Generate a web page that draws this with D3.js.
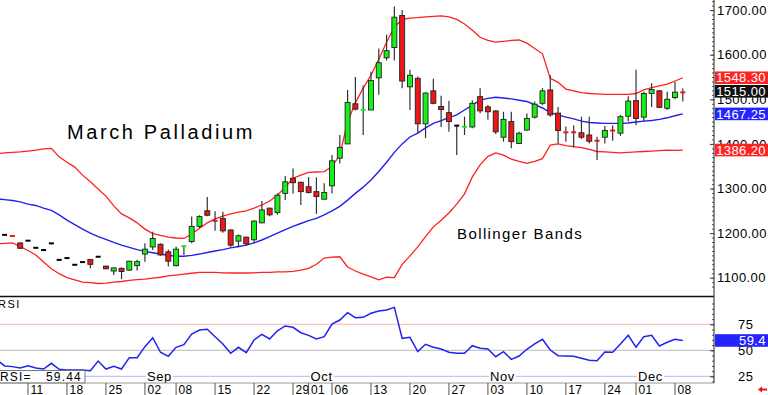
<!DOCTYPE html>
<html>
<head>
<meta charset="utf-8">
<script src="https://cdn.jsdelivr.net/npm/d3@7/dist/d3.min.js"></script>
<style>
  body { margin: 0; background: #fff; }
  svg { display: block; font-family: "Liberation Sans", Arial, sans-serif; }
</style>
</head>
<body>
<svg id="chart" width="768" height="395"></svg>
<script>
// trading days (2014), Aug 5 .. Dec 9
var tradingDays = [
  "08-05","08-06","08-07","08-08","08-11","08-12","08-13","08-14","08-15","08-18","08-19","08-20","08-21","08-22","08-25","08-26","08-27","08-28","08-29",
  "09-02","09-03","09-04","09-05","09-08","09-09","09-10","09-11","09-12","09-15","09-16","09-17","09-18","09-19","09-22","09-23","09-24","09-25","09-26","09-29","09-30",
  "10-01","10-02","10-03","10-06","10-07","10-08","10-09","10-10","10-13","10-14","10-15","10-16","10-17","10-20","10-21","10-22","10-23","10-24","10-27","10-28","10-29","10-30","10-31",
  "11-03","11-04","11-05","11-06","11-07","11-10","11-11","11-12","11-13","11-14","11-17","11-18","11-19","11-20","11-21","11-24","11-25","11-26","11-28",
  "12-01","12-02","12-03","12-04","12-05","12-08","12-09"
];

var opens = [1197,1196,1194,1178,
  1183,1167,1162,1177,1140,1144,1129,1135,1141,1147,
  1126,1115,1121,1117,1127,1153,1169,1175,1158,1127,
  1170,1181,1215,1250,1228,1233,1207,1182,1191,1185,
  1223,1256,1246,1289,1323,1314,1304,1293,1276,1306,
  1368,1400,1490,1476,1476,1548,1593,1616,1688,1528,
  1547,1445,1519,1484,1470,1441,1438,1438,1506,1483,
  1474,1415,1450,1401,1431,1460,1491,1521,1469,1426.5,
  1426.5,1425,1420,1407.5,1415,1430.5,1424,1462,1497,1460,
  1513,1519,1480,1504,1516];
var highs = [1197,1196,1194,1179,
  1183,1167,1162,1177,1140,1144,1129,1135,1142,1147,
  1127,1123,1123,1138,1140,1177,1203,1177,1163,1170,
  1173,1237,1240,1281,1249,1248,1208,1197,1192,1229,
  1272,1257,1289,1328,1345,1315,1326,1325,1312,1375,
  1420,1521,1550,1531,1562,1614,1645,1708,1700,1566,
  1551,1516,1546,1508,1497,1442,1461,1498,1525,1487,
  1475,1472,1472,1427,1468,1495,1525,1554,1483,1439,
  1442,1461,1461,1416,1440,1442,1465,1507,1566,1517,
  1536,1521,1517,1539,1524];
var lows = [1197,1196,1193,1165,
  1183,1167,1162,1177,1140,1144,1129,1135,1121,1147,
  1119,1106,1097,1115,1116,1136,1162,1149,1125,1125,
  1151,1177,1211,1238,1205,1201,1168,1168,1171,1177,
  1222,1238,1241,1274,1289,1263,1289,1243,1276,1289,
  1356,1400,1475,1420,1476,1510,1587,1587,1525,1476,
  1424,1413,1489,1438,1427,1375,1420,1435,1469,1454,
  1422,1405,1390,1400,1430,1457,1487,1461,1401,1405,
  1392,1411,1401,1364,1401,1407,1418,1450,1442,1450,
  1483,1480,1476,1500,1495];
var closes = [1197,1196,1193,1166,
  1183,1167,1162,1177,1140,1144,1129,1135,1130,1147,
  1120,1122,1114,1137,1136,1164,1188,1151,1137,1164,
  1171,1215,1237,1240,1227,1205,1173,1194,1176,1227,
  1252,1241,1285,1315,1313,1293,1291,1282,1291,1362,
  1392,1493,1478,1477,1542,1582,1609,1684,1541,1554,
  1445,1514,1491,1477,1450,1441,1439,1491,1474,1472,
  1427,1455,1405,1424,1457,1489,1519,1465,1430,1425.5,
  1425.5,1415,1406,1406.5,1430,1429.5,1461,1496,1457,1513,
  1522,1482,1500,1516,1515];

// bollinger bands as plotted
var upperBand = [1378,1380,1381,1382,
  1384,1386,1389,1390,1371,1359,1348,1330,1315,1299,
  1283,1261,1243,1234,1223,1209,1199,1195,1191,1189,
  1188,1198,1211,1223,1232,1238,1243,1247,1250,1256,
  1263,1272,1285,1303,1323,1330,1336,1337,1338,1349,
  1375,1449,1492,1525,1554,1590,1628,1662,1679,1682,
  1683,1685,1686,1687,1685,1679,1669,1655,1639,1632,
  1628,1630,1632,1633,1626,1614,1602,1547,1538,1523,
  1519,1515,1513,1512,1511,1511,1511,1511,1513,1521,
  1526,1530,1534,1541,1548.3];
var middleBand = [1276.5,1275,1273,1270,
  1265,1262,1256,1251,1241,1229,1219,1209,1200,1192,
  1186,1179,1173,1168,1163,1159,1156,1153,1150,1148,
  1148,1150,1153,1156.5,1160,1163,1167,1170,1173,1178,
  1184.5,1192,1200,1208,1215,1221.5,1228,1233,1241,1250,
  1260,1274,1289,1303,1319,1338,1359,1381,1400,1415.5,
  1424,1436,1446,1452,1459,1465,1476,1487,1498,1502,
  1504.5,1503,1501,1498,1495,1488,1480.5,1470,1465,1460,
  1456,1451,1448,1447,1446,1446,1446,1447,1449,1451,
  1452.5,1455,1458.5,1463,1467.25];
var lowerBand = [1176,1177,1178,1170,
  1161,1151,1135,1120,1109,1100,1095,1090,1089,1087,
  1088,1090,1091.5,1094,1095.5,1097,1099,1101,1104,1106,
  1108,1110,1112,1112,1112,1111,1110.5,1110.5,1110.5,1111,
  1112,1112,1113,1113,1114,1117,1121,1130,1144,1146,
  1147,1124,1115,1108,1102,1095,1101,1100,1130,1149,
  1169,1192,1214,1229,1245,1265,1288,1326,1353,1372,
  1380,1375,1366,1361,1356.5,1361,1367,1397.5,1400,1396,
  1394,1391.5,1387.5,1383,1382,1381,1380,1381,1382,1383,
  1384,1385,1386,1385.5,1386.2];

var rsi = [41,35,34.3,33,
  35,33,32,37.5,31.7,31,31,31,30.4,39.7,
  32,34.6,32,42.9,42.9,53.5,62.1,48.1,44.2,52.9,
  55.4,65.7,69.5,70.2,63.1,56.1,47.1,52.9,47.7,59.9,
  65.4,60.9,68.8,73.4,72.1,66.9,64.4,60.9,63.1,75.3,
  79.1,86.2,81.3,81.7,85.6,87.8,88.8,91.3,61.5,62.5,
  48.7,55.8,52.9,51.3,48.1,47.1,47.1,54.4,51.9,51.3,
  43.8,48.7,41.3,44.5,51,56.1,60.6,50.3,44.8,44.5,
  44.2,42.3,40.4,40,48.4,48.1,56.1,64.4,52.9,63.1,
  64.4,54.1,57.7,60.6,59.44];

var priceTicks = [1100, 1200, 1300, 1400, 1500, 1600, 1700];
var rsiTicks = [25, 50, 75];
var monthNames = ["Sep", "Oct", "Nov", "Dec"];

var parseDay = d3.timeParse("%Y-%m-%d");
var dates = tradingDays.map(function(d) { return parseDay("2014-" + d); });

var svg = d3.select("#chart");
var plotRight = 714;
var n = dates.length;

var x = d3.scaleLinear().domain([0, n - 1]).range([-3.2, 682.8]);
var y = d3.scaleLinear().domain([1100, 1700]).range([277.7, 10.1]);
var yr = d3.scaleLinear().domain([25, 75]).range([376.3, 324.3]);

svg.append("defs").append("clipPath").attr("id", "clipMain")
   .append("rect").attr("x", 0).attr("y", 0).attr("width", plotRight).attr("height", 296);
svg.append("defs").append("clipPath").attr("id", "clipRsi")
   .append("rect").attr("x", 0).attr("y", 297).attr("width", plotRight).attr("height", 86);

/* main price panel */
var main = svg.append("g").attr("clip-path", "url(#clipMain)");

var bandLine = d3.line().x(function(d, i) { return x(i); }).y(function(d) { return y(d); });
main.append("path").datum(upperBand).attr("d", bandLine)
    .attr("fill", "none").attr("stroke", "#ff2020").attr("stroke-width", 1.3);
main.append("path").datum(lowerBand).attr("d", bandLine)
    .attr("fill", "none").attr("stroke", "#ff2020").attr("stroke-width", 1.3);
main.append("path").datum(middleBand).attr("d", bandLine)
    .attr("fill", "none").attr("stroke", "#2020ee").attr("stroke-width", 1.4);

main.append("text").attr("x", 67).attr("y", 138.5).text("March Palladium")
    .style("font-size", "20px").style("letter-spacing", "2.6px").attr("fill", "#000");
main.append("text").attr("x", 457).attr("y", 239).text("Bollinger Bands")
    .style("font-size", "15px").style("letter-spacing", "1.4px").attr("fill", "#000");

var bars = d3.range(n).map(function(i) {
  return {i: i, o: opens[i], h: highs[i], l: lows[i], c: closes[i]};
});

function barColor(d) {
  if (d.c > d.o) return "#18ee18";
  if (d.c < d.o) return "#ee1616";
  return "#000";
}

var candle = main.append("g").selectAll("g").data(bars).enter().append("g");

// wicks
candle.filter(function(d) { return d.h > d.l; })
  .append("line")
  .attr("x1", function(d) { return x(d.i); })
  .attr("x2", function(d) { return x(d.i); })
  .attr("y1", function(d) { return y(d.h); })
  .attr("y2", function(d) { return y(d.l); })
  .attr("stroke", "#333").attr("stroke-width", 1.2);

// bodies
candle.append("rect")
  .attr("x", function(d) { return x(d.i) - 2.5; })
  .attr("width", 5)
  .attr("y", function(d) {
    var top = y(Math.max(d.o, d.c)), bot = y(Math.min(d.o, d.c));
    return (bot - top < 2) ? (top + bot) / 2 - 1 : top;
  })
  .attr("height", function(d) {
    var h = y(Math.min(d.o, d.c)) - y(Math.max(d.o, d.c));
    return h < 2 ? 2 : h;
  })
  .attr("fill", barColor)
  .attr("stroke", function(d) {
    var h = y(Math.min(d.o, d.c)) - y(Math.max(d.o, d.c));
    return h < 2 ? "none" : "#222";
  })
  .attr("stroke-width", 0.9);

/* rsi panel */
var rsiG = svg.append("g").attr("clip-path", "url(#clipRsi)");
rsiG.append("line").attr("x1", 0).attr("x2", plotRight).attr("y1", yr(75)).attr("y2", yr(75))
    .attr("stroke", "#ffb4b4").attr("stroke-width", 1);
rsiG.append("line").attr("x1", 0).attr("x2", plotRight).attr("y1", yr(50)).attr("y2", yr(50))
    .attr("stroke", "#b8b8b8").attr("stroke-width", 1);
rsiG.append("line").attr("x1", 0).attr("x2", plotRight).attr("y1", yr(25)).attr("y2", yr(25))
    .attr("stroke", "#b4b4ff").attr("stroke-width", 1);

rsiG.append("path").datum(rsi)
    .attr("d", d3.line().x(function(d, i) { return x(i); }).y(function(d) { return yr(d); }))
    .attr("fill", "none").attr("stroke", "#2222f0").attr("stroke-width", 1.5);

// month labels sitting on the 25 line
dates.forEach(function(d, i) {
  if (i > 0 && d.getMonth() != dates[i - 1].getMonth()) {
    var name = monthNames[d.getMonth() - 8];
    var t = rsiG.append("text").attr("x", x(i) + 2).attr("y", 381).text(name)
        .style("font-size", "13px").style("letter-spacing", "0.6px").attr("fill", "#000");
    var bb = t.node().getBBox();
    rsiG.insert("rect", "text").attr("x", bb.x - 1).attr("y", bb.y + 1)
        .attr("width", bb.width + 2).attr("height", bb.height - 2).attr("fill", "#fff");
  }
});

svg.append("text").attr("x", -2).attr("y", 308).text("RSI")
   .style("font-size", "11px").style("letter-spacing", "1.5px").attr("fill", "#000");

// rsi readout box
svg.append("rect").attr("x", -1).attr("y", 370.5).attr("width", 86).attr("height", 12.5)
   .attr("fill", "#fff").attr("stroke", "#777").attr("stroke-width", 1);
svg.append("text").attr("x", 0).attr("y", 381).text("RSI=")
   .style("font-size", "12px").style("letter-spacing", "1.2px");
svg.append("text").attr("x", 82).attr("y", 381).attr("text-anchor", "end")
   .text(d3.format(".2f")(rsi[n - 1]))
   .style("font-size", "12px").style("letter-spacing", "1.2px");

/* frame lines */
svg.append("line").attr("x1", 0).attr("x2", plotRight).attr("y1", 296.5).attr("y2", 296.5)
   .attr("stroke", "#111").attr("stroke-width", 1.5);
svg.append("line").attr("x1", 0).attr("x2", plotRight).attr("y1", 383).attr("y2", 383)
   .attr("stroke", "#999").attr("stroke-width", 1);

/* right axes */
var priceAxis = d3.axisRight(y).tickValues(priceTicks).tickFormat(d3.format(".2f"))
   .tickSizeInner(-4).tickSizeOuter(0).tickPadding(3);
var pa = svg.append("g").attr("transform", "translate(" + plotRight + ",0)").call(priceAxis);
pa.select(".domain").remove();
pa.selectAll("text").style("font-size", "13px").style("letter-spacing", "0.4px")
  .style("font-family", "Liberation Sans, Arial, sans-serif").attr("fill", "#000");
pa.selectAll("line").attr("stroke", "#333");

var minorPrice = d3.axisRight(y).tickValues(d3.range(1080, 1721, 10)).tickSize(-2).tickFormat("");
var mp = svg.append("g").attr("transform", "translate(" + plotRight + ",0)").call(minorPrice);
mp.select(".domain").remove();
mp.selectAll("line").attr("stroke", "#555");

var rsiAxis = d3.axisRight(yr).tickValues(rsiTicks).tickSizeInner(-4).tickSizeOuter(0).tickPadding(24);
var ra = svg.append("g").attr("transform", "translate(" + plotRight + ",0)").call(rsiAxis);
ra.select(".domain").remove();
ra.selectAll("text").style("font-size", "13px").style("letter-spacing", "0.4px")
  .style("font-family", "Liberation Sans, Arial, sans-serif").attr("fill", "#000");
ra.selectAll("line").attr("stroke", "#333");

var minorRsi = d3.axisRight(yr).tickValues(d3.range(10, 100, 5)).tickSize(-2).tickFormat("");
var mr = svg.append("g").attr("transform", "translate(" + plotRight + ",0)").call(minorRsi);
mr.select(".domain").remove();
mr.selectAll("line").attr("stroke", "#555")
  .style("display", function(d) { return (yr(d) < 298 || yr(d) > 382) ? "none" : null; });

svg.append("line").attr("x1", plotRight).attr("x2", plotRight).attr("y1", 0).attr("y2", 383)
   .attr("stroke", "#222").attr("stroke-width", 1);

/* last-value boxes */
function valueBox(val, yy, fill, label) {
  svg.append("rect").attr("x", 715).attr("y", yy - 6.3).attr("width", 53).attr("height", 12.6)
     .attr("fill", fill);
  svg.append("text").attr("x", 766).attr("y", yy + 4.6).attr("text-anchor", "end")
     .text(label).attr("fill", "#fff")
     .style("font-size", "13px").style("letter-spacing", "0.4px");
}
var last = n - 1;
valueBox(upperBand[last], y(upperBand[last]), "#ff2424", d3.format(".2f")(upperBand[last]));
valueBox(closes[last], y(closes[last]) - 1.3, "#111", d3.format(".2f")(closes[last]));
valueBox(middleBand[last], y(middleBand[last]), "#2424ff", d3.format(".2f")(middleBand[last]));
valueBox(lowerBand[last], y(lowerBand[last]), "#ff2424", d3.format(".2f")(lowerBand[last]));
valueBox(rsi[last], yr(rsi[last]), "#2424ff", d3.format(".1f")(rsi[last]));

/* date axis: first trading day of each week and of each month */
var dateG = svg.append("g");
dates.forEach(function(d, i) {
  if (i == 0) return;
  var prev = dates[i - 1];
  var newWeek = (d - prev) > 86400000 * 1.5 && d.getDay() <= prev.getDay() || (d - prev) > 86400000 * 3.5;
  var newMonth = d.getMonth() != prev.getMonth();
  if (!(newWeek || newMonth)) return;
  dateG.append("line").attr("x1", x(i)).attr("x2", x(i)).attr("y1", 383).attr("y2", 395)
       .attr("stroke", "#555").attr("stroke-width", 1);
  dateG.append("text").attr("x", x(i) + 2.5).attr("y", 393.5).text(d3.timeFormat("%d")(d))
       .style("font-size", "12px").style("letter-spacing", "0.3px").attr("fill", "#000");
});

// little red arrow, bottom right
svg.append("path").attr("d", "M758,389.5 L762,386.5 L762,388.5 L767,388.5 L767,390.5 L762,390.5 L762,392.5 Z")
   .attr("fill", "#ee1111");
</script>
</body>
</html>
